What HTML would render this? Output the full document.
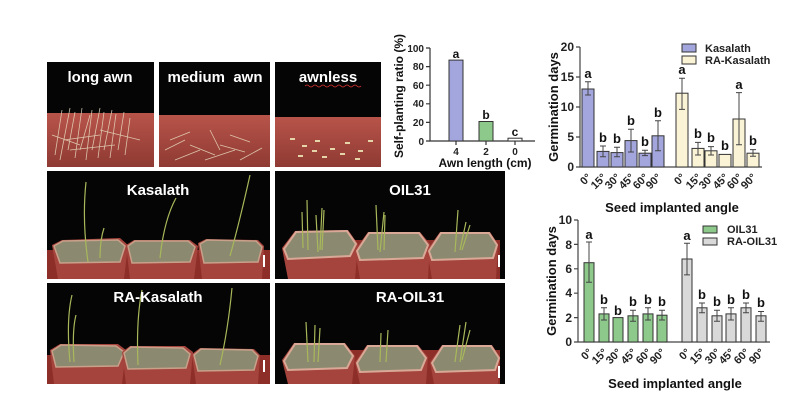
<!DOCTYPE html>
<html><head><meta charset="utf-8"><style>
body{margin:0;background:#fff}
svg{display:block;font-family:"Liberation Sans",Arial,sans-serif;font-weight:bold}
</style></head><body>
<svg width="799" height="412" viewBox="0 0 799 412">
<defs>
<linearGradient id="tray" x1="0" y1="0" x2="0" y2="1"><stop offset="0" stop-color="#b8544a"/><stop offset="1" stop-color="#8e3a33"/></linearGradient>
</defs>
<!-- top photo row -->
<rect x="47" y="62" width="107" height="105" fill="#050505"/>
<rect x="47" y="113" width="107" height="54" fill="url(#tray)"/>
<rect x="159" y="62" width="111" height="105" fill="#050505"/>
<rect x="159" y="115" width="111" height="52" fill="url(#tray)"/>
<rect x="275" y="62" width="106" height="105" fill="#050505"/>
<rect x="275" y="117" width="106" height="50" fill="url(#tray)"/>
<g stroke="#e8dcc0" stroke-width="0.8" opacity="0.85">
<path d="M55 155L62 110M60 160L70 108M68 150L75 112M75 158L82 108M80 150L90 115M86 160L92 110M92 150L100 108M98 158L104 112M104 150L112 110M110 158L116 114M118 150L124 112M125 155L130 118M64 140L100 135M70 150L115 145M100 130L140 140M52 135L80 145"/>
<path d="M165 150L185 140M175 160L200 150M190 145L215 155M205 160L235 150M220 145L245 152M240 160L262 148M170 140L190 132M230 135L250 142M210 130L220 150"/>
</g>
<g fill="#e6d5a8">
<rect x="290" y="138" width="5" height="2"/><rect x="302" y="145" width="5" height="2"/><rect x="315" y="140" width="5" height="2"/><rect x="330" y="148" width="5" height="2"/><rect x="345" y="142" width="5" height="2"/><rect x="358" y="150" width="5" height="2"/><rect x="368" y="140" width="5" height="2"/><rect x="298" y="155" width="5" height="2"/><rect x="322" y="156" width="5" height="2"/><rect x="340" y="153" width="5" height="2"/><rect x="355" y="158" width="5" height="2"/><rect x="312" y="150" width="5" height="2"/>
</g>
<g fill="#fff" font-size="15" text-anchor="middle">
<text x="100" y="82">long awn</text>
<text x="215" y="82">medium&#160; awn</text>
<text x="328" y="82">awnless</text>
</g>
<path d="M305 86q2 -2 4 0t4 0t4 0t4 0t4 0t4 0t4 0t4 0t4 0t4 0t4 0t4 0t4 0t4 0" stroke="#d33" fill="none" stroke-width="0.8"/>

<!-- Kasalath panel -->
<rect x="47" y="171" width="223" height="108" fill="#050505"/>
<rect x="47" y="250" width="223" height="29" fill="#8e2e28"/>
<g>
<path d="M52 245L62 240L120 238L128 245L124 279L58 279Z" fill="#a5443c"/>
<path d="M54 246L63 241L118 240L125 246L120 262L60 263Z" fill="#8b8a70" stroke="#c9a08a" stroke-width="1.5"/>
<path d="M126 245L134 240L190 240L198 246L194 279L130 279Z" fill="#a5443c"/>
<path d="M128 246L135 241L188 241L195 247L190 262L132 263Z" fill="#8b8a70" stroke="#c9a08a" stroke-width="1.5"/>
<path d="M198 243L206 239L258 240L264 246L262 279L202 279Z" fill="#a5443c"/>
<path d="M200 244L207 240L256 241L262 247L258 262L204 263Z" fill="#8b8a70" stroke="#c9a08a" stroke-width="1.5"/>
</g>
<g stroke="#a8b85a" stroke-width="1.2" fill="none">
<path d="M88 262Q82 220 86 182M100 258Q100 240 104 228M160 258Q164 220 176 198M230 256Q240 220 250 175"/>
</g>
<rect x="263" y="255" width="2" height="12" fill="#fff"/>
<text x="158" y="195" fill="#fff" font-size="15" text-anchor="middle">Kasalath</text>

<!-- RA-Kasalath -->
<rect x="47" y="283" width="223" height="101" fill="#050505"/>
<rect x="47" y="355" width="223" height="29" fill="#8e2e28"/>
<path d="M50 350L60 344L118 344L126 350L122 384L54 384Z" fill="#a5443c"/>
<path d="M52 351L61 345L116 346L124 352L118 366L56 367Z" fill="#8b8a70" stroke="#c9a08a" stroke-width="1.5"/>
<path d="M122 352L130 346L185 346L193 352L190 384L126 384Z" fill="#a5443c"/>
<path d="M124 353L131 347L183 348L190 354L186 368L128 369Z" fill="#8b8a70" stroke="#c9a08a" stroke-width="1.5"/>
<path d="M192 354L200 348L254 349L260 355L258 384L196 384Z" fill="#a5443c"/>
<path d="M194 355L201 349L252 350L258 356L254 370L198 371Z" fill="#8b8a70" stroke="#c9a08a" stroke-width="1.5"/>
<g stroke="#a8b85a" stroke-width="1.2" fill="none">
<path d="M70 362Q66 320 72 295M74 362Q72 330 76 315M138 365Q136 320 142 290M220 365Q228 330 232 288"/>
</g>
<rect x="263" y="360" width="2" height="12" fill="#fff"/>
<text x="158" y="302" fill="#fff" font-size="15" text-anchor="middle">RA-Kasalath</text>

<!-- OIL31 -->
<rect x="275" y="171" width="230" height="108" fill="#050505"/>
<rect x="290" y="240" width="210" height="39" fill="#8e2e28"/>
<path d="M282 248L295 231L348 230L358 244L355 279L288 279Z" fill="#a5443c"/>
<path d="M284 249L296 232L347 231L356 244L350 256L288 259Z" fill="#8b8a70" stroke="#d9a896" stroke-width="2"/>
<path d="M355 250L368 232L420 232L430 244L428 279L360 279Z" fill="#a5443c"/>
<path d="M357 251L369 233L419 233L428 245L423 258L360 260Z" fill="#8b8a70" stroke="#d9a896" stroke-width="2"/>
<path d="M427 250L440 232L490 232L498 244L496 279L432 279Z" fill="#a5443c"/>
<path d="M429 251L441 233L489 233L497 245L493 258L432 260Z" fill="#8b8a70" stroke="#d9a896" stroke-width="2"/>
<g stroke="#a8b85a" stroke-width="1.2" fill="none">
<path d="M303 248L302 212M308 250L307 200M318 252L316 215M320 250L322 208M322 250L324 210M378 250L376 205M380 252L384 212M384 250L385 215M455 252L458 210M460 250L466 222M462 250L470 225"/>
</g>
<rect x="498" y="255" width="2" height="12" fill="#fff"/>
<text x="410" y="195" fill="#fff" font-size="15" text-anchor="middle">OIL31</text>

<!-- RA-OIL31 -->
<rect x="275" y="283" width="230" height="101" fill="#050505"/>
<rect x="290" y="350" width="210" height="34" fill="#8e2e28"/>
<path d="M282 360L294 343L345 343L355 356L352 384L288 384Z" fill="#a5443c"/>
<path d="M284 361L295 344L344 344L353 356L347 368L288 370Z" fill="#8b8a70" stroke="#d9a896" stroke-width="2"/>
<path d="M355 362L367 345L418 345L428 357L426 384L360 384Z" fill="#a5443c"/>
<path d="M357 363L368 346L417 346L426 358L421 370L360 372Z" fill="#8b8a70" stroke="#d9a896" stroke-width="2"/>
<path d="M430 362L442 345L492 345L500 357L498 384L434 384Z" fill="#a5443c"/>
<path d="M432 363L443 346L491 346L499 358L495 370L436 372Z" fill="#8b8a70" stroke="#d9a896" stroke-width="2"/>
<g stroke="#a8b85a" stroke-width="1.2" fill="none">
<path d="M308 362L306 322M314 362L315 325M318 362L320 328M380 362L381 333M386 362L388 330M455 362L460 325M460 362L466 322M462 360L470 330"/>
</g>
<rect x="498" y="366" width="2" height="12" fill="#fff"/>
<text x="410" y="302" fill="#fff" font-size="15" text-anchor="middle">RA-OIL31</text>

<!-- small chart -->
<g stroke="#333" stroke-width="1.2" fill="none">
<path d="M430 48V141H535"/>
<path d="M426 48H430M426 66.6H430M426 85.2H430M426 103.8H430M426 122.4H430M426 141H430M456 141V145M486 141V145M515 141V145"/>
</g>
<rect x="449" y="60.1" width="14" height="80.9" fill="#a3a6dc" stroke="#333"/>
<rect x="479" y="121.5" width="14" height="19.5" fill="#8dc98a" stroke="#333"/>
<rect x="508" y="138.2" width="14" height="2.8" fill="#fff" stroke="#333"/>
<g font-size="10" text-anchor="end" fill="#222">
<text x="424" y="52">100</text><text x="424" y="70">80</text><text x="424" y="89">60</text><text x="424" y="107">40</text><text x="424" y="126">20</text><text x="424" y="145">0</text>
</g>
<g font-size="10" text-anchor="middle" fill="#222">
<text x="456" y="155">4</text><text x="486" y="155">2</text><text x="515" y="155">0</text>
</g>
<g font-size="12" text-anchor="middle" fill="#111">
<text x="456" y="58">a</text><text x="486" y="119">b</text><text x="515" y="136">c</text>
</g>
<text x="485" y="167" font-size="12" text-anchor="middle" fill="#111">Awn length (cm)</text>
<text transform="translate(403,96) rotate(-90)" font-size="12" text-anchor="middle" fill="#111">Self-planting ratio (%)</text>

<!-- top-right chart -->
<g stroke="#444" stroke-width="1.2" fill="none">
<path d="M580 47V167H762"/>
<path d="M576 47H580M576 77H580M576 107H580M576 137H580M576 167H580"/>
</g>
<g font-size="12" text-anchor="end" fill="#222">
<text x="574" y="51">20</text><text x="574" y="81">15</text><text x="574" y="111">10</text><text x="574" y="141">5</text><text x="574" y="171">0</text>
</g>
<g stroke="#333" stroke-width="1">
<rect x="582" y="89" width="12" height="78" fill="#a3a6dc"/>
<rect x="597" y="151.4" width="12" height="15.6" fill="#a3a6dc"/>
<rect x="611" y="152.6" width="12" height="14.4" fill="#a3a6dc"/>
<rect x="625" y="140.6" width="12" height="26.4" fill="#a3a6dc"/>
<rect x="639" y="153.2" width="12" height="13.8" fill="#a3a6dc"/>
<rect x="652" y="135.8" width="12" height="31.2" fill="#a3a6dc"/>
<rect x="676" y="93.2" width="12" height="73.8" fill="#fbf3d6"/>
<rect x="692" y="148.4" width="12" height="18.6" fill="#fbf3d6"/>
<rect x="705" y="150.8" width="12" height="16.2" fill="#fbf3d6"/>
<rect x="719" y="154.4" width="12" height="12.6" fill="#fbf3d6"/>
<rect x="733" y="119" width="12" height="48" fill="#fbf3d6"/>
<rect x="747" y="153.2" width="12" height="13.8" fill="#fbf3d6"/>
</g>
<g stroke="#444" stroke-width="1" fill="none">
<path d="M588 95V81.8M585 95H591M585 81.8H591"/>
<path d="M603 156.8V146M600 156.8H606M600 146H606"/>
<path d="M617 156.8V147.2M614 156.8H620M614 147.2H620"/>
<path d="M631 152V129.2M628 152H634M628 129.2H634"/>
<path d="M645 155.6V150.2M642 155.6H648M642 150.2H648"/>
<path d="M658 150.8V120.8M655 150.8H661M655 120.8H661"/>
<path d="M682 109.4V78.2M679 109.4H685M679 78.2H685"/>
<path d="M698 155V142.4M695 155H701M695 142.4H701"/>
<path d="M711 155V146.6M708 155H714M708 146.6H714"/>
<path d="M739 144.8V92.6M736 144.8H742M736 92.6H742"/>
<path d="M753 156.2V149.6M750 156.2H756M750 149.6H756"/>
</g>
<g font-size="13" text-anchor="middle" fill="#111">
<text x="588" y="78">a</text><text x="603" y="142">b</text><text x="617" y="143">b</text><text x="631" y="125">b</text><text x="645" y="146">b</text><text x="658" y="117">b</text>
<text x="682" y="74">a</text><text x="698" y="138">b</text><text x="711" y="142">b</text><text x="725" y="150">b</text><text x="739" y="89">a</text><text x="753" y="145">b</text>
</g>
<g font-size="11" fill="#222" text-anchor="end">
<text transform="translate(592,178) rotate(-45)">0°</text><text transform="translate(607,178) rotate(-45)">15°</text><text transform="translate(621,178) rotate(-45)">30°</text><text transform="translate(635,178) rotate(-45)">45°</text><text transform="translate(649,178) rotate(-45)">60°</text><text transform="translate(662,178) rotate(-45)">90°</text>
<text transform="translate(686,178) rotate(-45)">0°</text><text transform="translate(702,178) rotate(-45)">15°</text><text transform="translate(715,178) rotate(-45)">30°</text><text transform="translate(729,178) rotate(-45)">45°</text><text transform="translate(743,178) rotate(-45)">60°</text><text transform="translate(757,178) rotate(-45)">90°</text>
</g>
<text x="672" y="212" font-size="13" text-anchor="middle" fill="#111">Seed implanted angle</text>
<text transform="translate(558,107) rotate(-90)" font-size="13" text-anchor="middle" fill="#111">Germination days</text>
<rect x="682" y="44" width="14" height="8" fill="#a3a6dc" stroke="#333"/>
<rect x="682" y="56" width="14" height="8" fill="#fbf3d6" stroke="#333"/>
<text x="705" y="52" font-size="11" fill="#222">Kasalath</text>
<text x="705" y="64" font-size="11" fill="#222">RA-Kasalath</text>

<!-- bottom-right chart -->
<g stroke="#444" stroke-width="1.2" fill="none">
<path d="M578 220V342H770"/>
<path d="M574 220H578M574 244.4H578M574 268.8H578M574 293.2H578M574 317.6H578M574 342H578"/>
</g>
<g font-size="12" text-anchor="end" fill="#222">
<text x="572" y="224">10</text><text x="572" y="249">8</text><text x="572" y="273">6</text><text x="572" y="297">4</text><text x="572" y="322">2</text><text x="572" y="346">0</text>
</g>
<g stroke="#333" stroke-width="1">
<rect x="584" y="262.7" width="10" height="79.3" fill="#8dc98a"/>
<rect x="599" y="313.9" width="10" height="28.1" fill="#8dc98a"/>
<rect x="613" y="317.6" width="10" height="24.4" fill="#8dc98a"/>
<rect x="628" y="315.8" width="10" height="26.2" fill="#8dc98a"/>
<rect x="643" y="313.9" width="10" height="28.1" fill="#8dc98a"/>
<rect x="657" y="315.2" width="10" height="26.8" fill="#8dc98a"/>
<rect x="682" y="259" width="10" height="83" fill="#d9d9d9"/>
<rect x="697" y="307.8" width="10" height="34.2" fill="#d9d9d9"/>
<rect x="712" y="315.8" width="10" height="26.2" fill="#d9d9d9"/>
<rect x="726" y="313.9" width="10" height="28.1" fill="#d9d9d9"/>
<rect x="741" y="307.8" width="10" height="34.2" fill="#d9d9d9"/>
<rect x="756" y="315.8" width="10" height="26.2" fill="#d9d9d9"/>
</g>
<g stroke="#444" stroke-width="1" fill="none">
<path d="M589 282.2V242M586 282.2H592M586 242H592"/>
<path d="M604 320V307.8M601 320H607M601 307.8H607"/>
<path d="M633 321.3V310.3M630 321.3H636M630 310.3H636"/>
<path d="M648 320V307.8M645 320H651M645 307.8H651"/>
<path d="M662 320V310.3M659 320H665M659 310.3H665"/>
<path d="M687 274.9V243.2M684 274.9H690M684 243.2H690"/>
<path d="M702 312.7V303M699 312.7H705M699 303H705"/>
<path d="M717 321.3V310.3M714 321.3H720M714 310.3H720"/>
<path d="M731 320V307.8M728 320H734M728 307.8H734"/>
<path d="M746 312.7V303M743 312.7H749M743 303H749"/>
<path d="M761 321.3V311.5M758 321.3H764M758 311.5H764"/>
</g>
<g font-size="13" text-anchor="middle" fill="#111">
<text x="589" y="239">a</text><text x="604" y="304">b</text><text x="618" y="315">b</text><text x="633" y="306">b</text><text x="648" y="304">b</text><text x="662" y="306">b</text>
<text x="687" y="240">a</text><text x="702" y="299">b</text><text x="717" y="306">b</text><text x="731" y="304">b</text><text x="746" y="299">b</text><text x="761" y="307">b</text>
</g>
<g font-size="11" fill="#222" text-anchor="end">
<text transform="translate(593,353) rotate(-45)">0°</text><text transform="translate(608,353) rotate(-45)">15°</text><text transform="translate(622,353) rotate(-45)">30°</text><text transform="translate(637,353) rotate(-45)">45°</text><text transform="translate(652,353) rotate(-45)">60°</text><text transform="translate(666,353) rotate(-45)">90°</text>
<text transform="translate(691,353) rotate(-45)">0°</text><text transform="translate(706,353) rotate(-45)">15°</text><text transform="translate(721,353) rotate(-45)">30°</text><text transform="translate(735,353) rotate(-45)">45°</text><text transform="translate(750,353) rotate(-45)">60°</text><text transform="translate(765,353) rotate(-45)">90°</text>
</g>
<text x="675" y="388" font-size="13" text-anchor="middle" fill="#111">Seed implanted angle</text>
<text transform="translate(556,281) rotate(-90)" font-size="13" text-anchor="middle" fill="#111">Germination days</text>
<rect x="703" y="226" width="14" height="7" fill="#8dc98a" stroke="#333"/>
<rect x="703" y="238" width="14" height="7" fill="#d9d9d9" stroke="#333"/>
<text x="727" y="233" font-size="11" fill="#222">OIL31</text>
<text x="727" y="245" font-size="11" fill="#222">RA-OIL31</text>
</svg>
</body></html>
